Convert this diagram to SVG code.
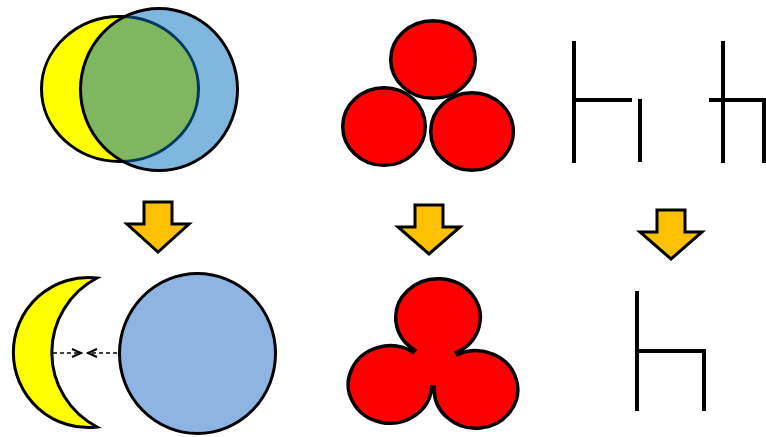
<svg xmlns="http://www.w3.org/2000/svg" width="766" height="437" viewBox="0 0 766 437">
  <defs>
    <style>
      .st { stroke: #000; stroke-width: 3; }
      .red { fill: #FF0000; stroke: #000; stroke-width: 3.5; }
      .arrow { fill: #FFC000; stroke: #000; stroke-width: 3; stroke-linejoin: miter; }
      .bar { fill: none; stroke: #000; stroke-width: 4; stroke-linecap: butt; stroke-linejoin: miter; }
      .dash { fill: none; stroke: #000; stroke-width: 1.5; stroke-dasharray: 4 3; }
    </style>
    <marker id="chev" markerUnits="userSpaceOnUse" markerWidth="12" markerHeight="12" viewBox="0 0 12 12" refX="10" refY="5" orient="auto">
      <path d="M1,1 L10,5 L1,9" fill="none" stroke="#000" stroke-width="2"/>
    </marker>
  </defs>

  <g id="venn">
    <ellipse cx="120" cy="89" rx="78.5" ry="72.5" fill="#FFFF00" class="st"/>
    <ellipse cx="159" cy="89.5" rx="78.5" ry="81" fill="#0070C0" fill-opacity="0.5" class="st"/>
  </g>

  <g id="three-circles">
    <ellipse cx="433" cy="59.5" rx="42.3" ry="38.8" class="red"/>
    <ellipse cx="384" cy="126.5" rx="41.3" ry="38.8" class="red"/>
    <ellipse cx="472" cy="131.5" rx="41.3" ry="38.8" class="red"/>
  </g>

  <g id="h-shapes">
    <path class="bar" d="M574,41 V163 M574,100 H632 M640,99 V162"/>
    <path class="bar" d="M723,41 V163 M709,100 H764 V163"/>
  </g>

  <g id="arrow-left">
    <path class="arrow" d="M144,202 H172 V224 H189 L158,252 L127,224 H144 Z"/>
  </g>
  <g id="arrow-middle">
    <path class="arrow" d="M415,205 H443 V227 H460 L429,254 L398,227 H415 Z"/>
  </g>
  <g id="arrow-right">
    <path class="arrow" d="M657,210 H685 V232 H702 L671,259 L640,232 H657 Z"/>
  </g>

  <g id="crescent">
    <path d="M97,278 A75,75 0 1 0 97,427 A84,84 0 0 1 97,278 Z" fill="#FFFF00" class="st" stroke-linejoin="miter"/>
  </g>

  <g id="blue-circle">
    <ellipse cx="197.5" cy="353.5" rx="78" ry="80" fill="#8EB4E3" class="st"/>
  </g>

  <g id="merged-circles">
    <path class="red" stroke-linejoin="miter" stroke-miterlimit="6" d="M414.8,349.9 A42.25,38.75 0 1 1 456.4,352.4 L457.6,354.7 A41.75,38.75 0 1 1 434.3,387.1 L431.7,386.9 A41.75,38.75 0 1 1 413.1,352.2 Z"/>
  </g>

  <g id="final-h">
    <path class="bar" d="M637,291 V411 M637,351 H704 V411"/>
  </g>

  <g id="connectors">
    <line class="dash" x1="53" y1="353" x2="81" y2="353" marker-end="url(#chev)"/>
    <line class="dash" x1="117" y1="353" x2="88" y2="353" marker-end="url(#chev)"/>
  </g>
</svg>
